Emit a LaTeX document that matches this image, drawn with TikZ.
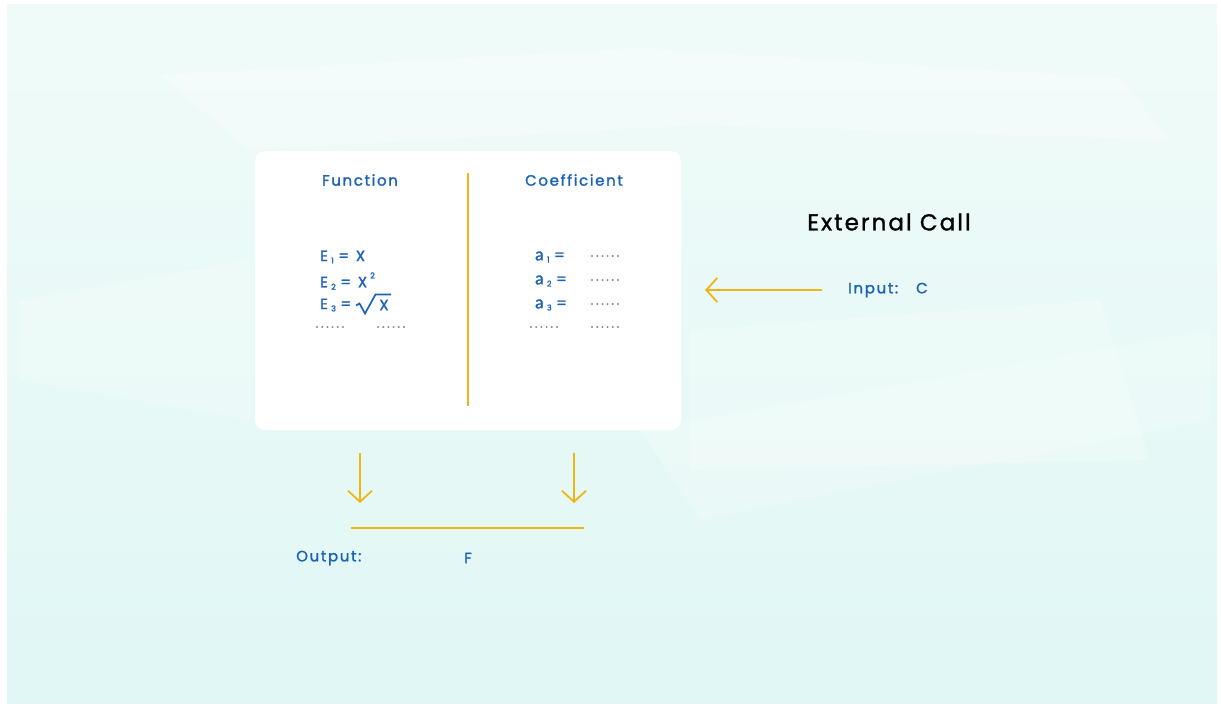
\documentclass[tikz,border=0pt]{standalone}
\usepackage{fontspec}
\setmainfont{Poppins}
\newfontfamily\afont{Lato}
\usetikzlibrary{arrows.meta,calc}
\definecolor{tblue}{RGB}{28,99,184}
\definecolor{tgold}{RGB}{240,180,20}
\definecolor{bgtop}{RGB}{240,251,249}
\definecolor{bgbot}{RGB}{224,247,245}
\definecolor{dotgray}{RGB}{135,135,135}
\newcommand{\lowi}[1]{\hspace{0.22em}\raisebox{-0.15em}{\fontsize{8}{8}\selectfont #1}\hspace{0.3em}}
\newcommand{\upi}[1]{\hspace{0.2em}\raisebox{0.6em}{\fontsize{8}{8}\selectfont #1}}
\newcommand{\dbla}{{\afont\fontsize{17}{17}\selectfont\addfontfeature{FakeBold=1.5}a}}
\tikzset{
  lbl/.style={text=tblue,font=\fontsize{15}{17}\selectfont\addfontfeature{LetterSpace=11,FakeBold=1.6},inner sep=0pt},
  dotrow/.style={draw=dotgray,line width=2.2pt,line cap=round,dash pattern=on 0pt off 5.2pt},
  garrow/.style={draw=tgold,line width=1.8pt,-{Straight Barb[length=11pt,width=24pt]}},
  gline/.style={draw=tgold,line width=1.8pt},
  rootline/.style={draw=tblue,line width=1.7pt,line join=miter},
  patch/.style={fill=white,draw=none}
}
\begin{document}
\begin{tikzpicture}[x=1pt,y=-1pt]
\useasboundingbox (0,0) rectangle (1221,705);
\fill[white] (0,0) rectangle (1221,705);
\shade[top color=bgtop,bottom color=bgbot] (7,4) rectangle (1217,703);
% soft background patches
\fill[patch,opacity=0.3] (160,75) -- (640,48) -- (1120,78) -- (1170,140) -- (700,125) -- (250,150) -- cycle;
\fill[patch,opacity=0.2] (640,430) -- (1210,330) -- (1210,420) -- (700,520) -- cycle;
\fill[patch,opacity=0.2] (20,300) -- (250,260) -- (250,420) -- (20,380) -- cycle;
\fill[patch,opacity=0.2] (690,330) -- (1100,300) -- (1150,460) -- (690,470) -- cycle;

% card
\node[fill=white,rounded corners=10pt,minimum width=426pt,minimum height=279pt,inner sep=0pt] (card) at (468,290.5) {};
\coordinate (divtop) at (468,173);
\coordinate (divbot) at (468,406);
\draw[gline] (divtop) -- (divbot);

\node[lbl] (fun) at (360,180) {Function};
\node[lbl] (coef) at (574,180) {Coefficient};

\node[lbl,anchor=west] (e1) at (320,257) {E\lowi{1}=\hspace{0.45em}X};
\node[lbl,anchor=west] (e2) at (320,281) {E\lowi{2}=\hspace{0.45em}X\upi{2}};
\node[lbl,anchor=west] (e3) at (320,305) {E\lowi{3}=};
\node[lbl] (e3x) at (384,305) {X};
\draw[rootline] (356,305.5) -- (359.5,303.5) -- (365,313.5) -- (375.5,294.5) -- (391,294.5);

\node[lbl,anchor=west] (a1) at (535,257) {\dbla\lowi{1}=};
\node[lbl,anchor=west] (a2) at (535,281) {\dbla\lowi{2}=};
\node[lbl,anchor=west] (a3) at (535,305) {\dbla\lowi{3}=};

\draw[dotrow] (317,327) -- (343,327);
\draw[dotrow] (378,327) -- (404,327);
\draw[dotrow] (592,256) -- (618,256);
\draw[dotrow] (592,280) -- (618,280);
\draw[dotrow] (592,304) -- (618,304);
\draw[dotrow] (531,327) -- (557,327);
\draw[dotrow] (592,327) -- (618,327);

% external call
\node[text=black,font=\fontsize{23}{26}\selectfont\addfontfeature{LetterSpace=9,FakeBold=1.2},inner sep=0pt] (ext) at (889,222) {External Call};
\node[lbl,anchor=west] (inp) at (848,290) {Input:\hspace{1.2em}C};
\coordinate (inpstart) at (822,290);
\coordinate (inpend) at (705,290);
\draw[garrow] (inpstart) -- (inpend);

% outputs
\coordinate (d1s) at (360,453);
\coordinate (d1e) at (360,503);
\coordinate (d2s) at (574,453);
\coordinate (d2e) at (574,503);
\draw[garrow] (d1s) -- (d1e);
\draw[garrow] (d2s) -- (d2e);
\coordinate (barl) at (351,528);
\coordinate (barr) at (584,528);
\draw[gline] (barl) -- (barr);

\node[lbl,anchor=west] (out) at (296,558) {Output:};
\node[lbl] (fval) at (468,558) {F};
\end{tikzpicture}
\end{document}
